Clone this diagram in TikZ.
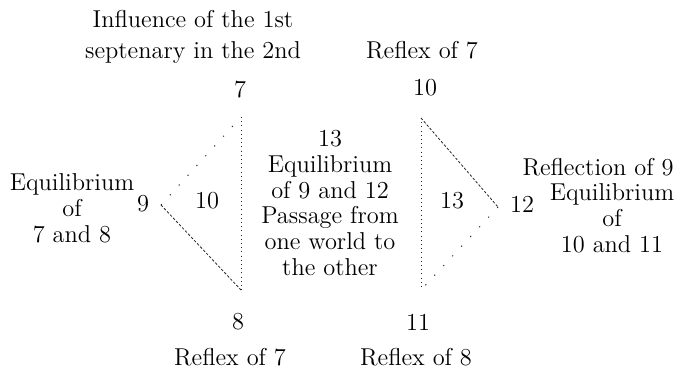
\documentclass[tikz,border=0pt]{standalone}
\usepackage{tikz}
\newcommand{\labelfont}{\fontsize{12.2}{12.9}\selectfont}
\tikzset{
  lbl/.style={inner sep=0pt,align=center,font=\labelfont},
  dotline/.style={line width=0.45pt,black!85,dash pattern=on 0.5pt off 1.6pt},
  dashline/.style={line width=0.4pt,black!85,dash pattern=on 1.3pt off 0.9pt},
  sparseline/.style={line width=0.5pt,black!80,dash pattern=on 0.6pt off 6pt}
}

\begin{document}
\begin{tikzpicture}[x=0.5pt,y=-0.5pt]
  \useasboundingbox (0,0) rectangle (678,369);

  % corners of the two triangles
  \coordinate (t7) at (241,117);
  \coordinate (v9) at (161,205);
  \coordinate (b8) at (241,290);
  \coordinate (t10) at (421,118);
  \coordinate (v12) at (498,207);
  \coordinate (b11) at (421,290);

  % first septenary
  \node[lbl] (infl) at (193,37) {Influence of the 1st\\[2.6pt]septenary in the 2nd};
  \node[lbl] (n7) at (240,90) {7};
  \node[lbl] (n9) at (143,204) {9};
  \node[lbl] (n8) at (238,322) {8};
  \node[lbl] (inl) at (207,201) {10};
  \node[lbl] (equl) at (72,208) {Equilibrium\\of\\7 and 8};
  \node[lbl] (refb) at (230,357) {Reflex of 7};

  % second septenary
  \node[lbl] (refa) at (422,50) {Reflex of 7};
  \node[lbl] (n10) at (425,88) {10};
  \node[lbl] (n12) at (522,204) {12};
  \node[lbl] (n11) at (418,322) {11};
  \node[lbl] (inr) at (452,201) {13};
  \node[lbl] (refl) at (598,167) {Reflection of 9};
  \node[lbl] (equr) at (612,218) {Equilibrium\\of\\10 and 11};
  \node[lbl] (refc) at (416,357) {Reflex of 8};

  % passage between the two
  \node[lbl] (mid) at (330,203)
    {13\\Equilibrium\\of 9 and 12\\Passage from\\one world to\\the other};

  \draw[sparseline] (v9) -- (t7);
  \draw[dotline] (t7) -- (b8);
  \draw[dashline] (v9) -- (b8);
  \draw[dotline] (t10) -- (b11);
  \draw[dashline] (t10) -- (v12);
  \draw[sparseline] (v12) -- (b11);
\end{tikzpicture}
\end{document}
